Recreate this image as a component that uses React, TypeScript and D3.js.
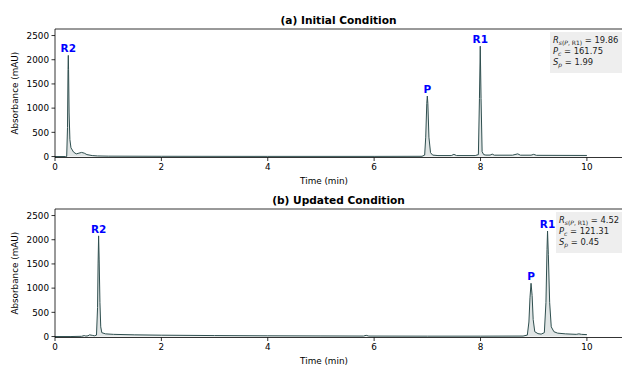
import React from "react";
import * as d3 from "d3";

const xTicks = [0, 2, 4, 6, 8, 10];
const yTicks = [0, 500, 1000, 1500, 2000, 2500];

// Panel (a) trace: [time (min), absorbance (mAU)]
const traceA: [number, number][] = [
  [0, 0], [0.2, 0], [0.22, 0], [0.235, 600], [0.245, 1800], [0.25, 2090], [0.255, 1800],
  [0.265, 900], [0.28, 350], [0.3, 180], [0.35, 90], [0.4, 55], [0.45, 70], [0.5, 85],
  [0.55, 70], [0.6, 40], [0.7, 20], [0.8, 12], [1, 8], [2, 5], [4, 3], [6, 3], [6.9, 5],
  [6.95, 30], [6.97, 400], [6.99, 1100], [7.0, 1250], [7.01, 1100], [7.03, 400], [7.06, 80],
  [7.1, 30], [7.2, 20], [7.45, 20], [7.5, 45], [7.55, 20], [7.9, 20], [7.96, 40], [7.98, 1200],
  [7.995, 2280], [8.01, 1200], [8.03, 100], [8.06, 40], [8.1, 30], [8.18, 30], [8.22, 50],
  [8.26, 28], [8.6, 28], [8.7, 55], [8.75, 28], [8.95, 28], [9.0, 45], [9.05, 25], [10, 22],
];

// Panel (b) trace
const traceB: [number, number][] = [
  [0, 0], [0.3, 0], [0.5, 5], [0.55, 20], [0.58, 10], [0.62, 15], [0.65, 35], [0.7, 25],
  [0.74, 15], [0.78, 30], [0.8, 600], [0.81, 1500], [0.82, 2080], [0.83, 1600], [0.845, 700],
  [0.86, 200], [0.88, 80], [0.95, 55], [1.1, 45], [1.5, 35], [2, 28], [3, 20], [4, 15],
  [5, 12], [5.8, 10], [5.85, 25], [5.9, 10], [7, 8], [8, 8], [8.8, 10], [8.88, 30],
  [8.91, 300], [8.93, 800], [8.95, 1100], [8.97, 850], [8.99, 350], [9.02, 100], [9.08, 60],
  [9.14, 50], [9.2, 80], [9.23, 700], [9.25, 1800], [9.26, 2180], [9.275, 1700], [9.3, 700],
  [9.33, 200], [9.38, 100], [9.45, 70], [9.6, 55], [9.8, 45], [9.85, 55], [9.9, 45], [10, 40],
];

const peaksA = [
  { name: "R2", t: 0.25, h: 2090 },
  { name: "P", t: 7.0, h: 1250 },
  { name: "R1", t: 7.995, h: 2280 },
];
const peaksB = [
  { name: "R2", t: 0.82, h: 2080 },
  { name: "P", t: 8.95, h: 1100 },
  { name: "R1", t: 9.26, h: 2180 },
];

const statsA = { rs: "19.86", pc: "161.75", sp: "1.99" };
const statsB = { rs: "4.52", pc: "121.31", sp: "0.45" };

const FONT = "DejaVu Sans, sans-serif";
const LINE = "#2f4f4f";

function Panel({ title, trace, peaks, stats, top, boxX }: any) {
  const left = 55, right = 622;
  const plotTop = top, plotBottom = top + 128.5;
  const x = d3.scaleLinear().domain([0, 10.66]).range([left, right]);
  const y = d3.scaleLinear().domain([-20, 2635]).range([plotBottom, plotTop]);
  const line = d3.line<[number, number]>().x(d => x(d[0])).y(d => y(d[1]));
  const area = d3.area<[number, number]>().x(d => x(d[0])).y0(y(0)).y1(d => y(d[1]));
  const midY = (plotTop + plotBottom) / 2;
  return (
    <g>
      <text x={(left + right) / 2} y={plotTop - 5} textAnchor="middle" fontFamily={FONT}
        fontWeight="bold" fontSize={10.6}>{title}</text>
      <path d={area(trace) || ""} fill={LINE} opacity={0.15} />
      <path d={line(trace) || ""} fill="none" stroke={LINE} strokeWidth={1} />
      {peaks.map((p: any) => (
        <text key={p.name} x={x(p.t)} y={y(p.h) - 3} textAnchor="middle" fontFamily={FONT}
          fontWeight="bold" fontSize={10.5} fill="#0000ff">{p.name}</text>
      ))}
      <rect x={boxX} y={plotTop + 3} width={right - boxX + 5} height={41} fill="#eeeeee" />
      <g fontFamily={FONT} fontSize={8.4} fill="#222">
        <text x={boxX + 3} y={plotTop + 13.5}>
          <tspan fontStyle="italic">R</tspan>
          <tspan fontSize={6} dy={2}><tspan fontStyle="italic">s</tspan>(<tspan fontStyle="italic">P</tspan>, R1)</tspan>
          <tspan dy={-2}>{` = ${stats.rs}`}</tspan>
        </text>
        <text x={boxX + 3} y={plotTop + 24.5}>
          <tspan fontStyle="italic">P</tspan>
          <tspan fontSize={6} dy={2} fontStyle="italic">c</tspan>
          <tspan dy={-2}>{` = ${stats.pc}`}</tspan>
        </text>
        <text x={boxX + 3} y={plotTop + 35.5}>
          <tspan fontStyle="italic">S</tspan>
          <tspan fontSize={6} dy={2} fontStyle="italic">p</tspan>
          <tspan dy={-2}>{` = ${stats.sp}`}</tspan>
        </text>
      </g>
      <line x1={left} x2={right} y1={plotTop} y2={plotTop} stroke="#000" strokeWidth={0.8} />
      <line x1={left} x2={right} y1={plotBottom} y2={plotBottom} stroke="#000" strokeWidth={0.8} />
      <line x1={left} x2={left} y1={plotTop} y2={plotBottom} stroke="#000" strokeWidth={0.8} />
      {xTicks.map(t => (
        <g key={t}>
          <line x1={x(t)} x2={x(t)} y1={plotBottom} y2={plotBottom + 3.5} stroke="#000" strokeWidth={0.8} />
          <text x={x(t)} y={plotBottom + 12.5} textAnchor="middle" fontFamily={FONT} fontSize={8.8}>{t}</text>
        </g>
      ))}
      {yTicks.map(t => (
        <g key={t}>
          <line x1={left - 3.5} x2={left} y1={y(t)} y2={y(t)} stroke="#000" strokeWidth={0.8} />
          <text x={left - 6} y={y(t) + 3.2} textAnchor="end" fontFamily={FONT} fontSize={8.8}>{t}</text>
        </g>
      ))}
      <text x={(left + 587) / 2 + 3} y={plotBottom + 26} textAnchor="middle" fontFamily={FONT} fontSize={8.8}>Time (min)</text>
      <text transform={`translate(18,${midY}) rotate(-90)`} textAnchor="middle" fontFamily={FONT} fontSize={8.8}>Absorbance (mAU)</text>
    </g>
  );
}

export default function App() {
  return (
    <svg width={622} height={365} style={{ position: "absolute", left: 0, top: 0, background: "#fff" }}>
      <Panel title="(a) Initial Condition" trace={traceA} peaks={peaksA} stats={statsA} top={29} boxX={550} />
      <Panel title="(b) Updated Condition" trace={traceB} peaks={peaksB} stats={statsB} top={209} boxX={556} />
    </svg>
  );
}
